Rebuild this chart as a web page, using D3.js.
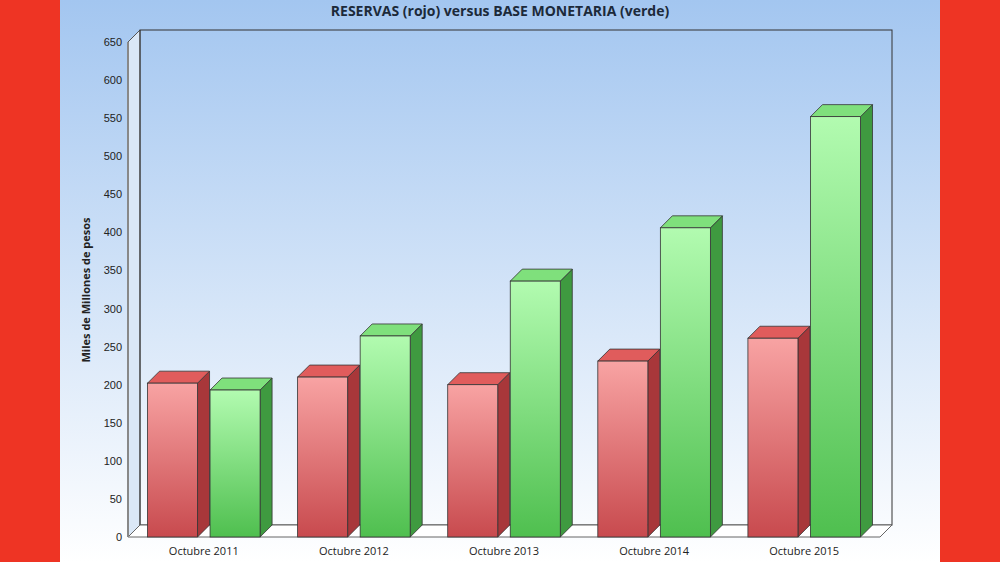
<!DOCTYPE html><html><head><meta charset="utf-8">
<script src="https://d3js.org/d3.v7.min.js"></script>
<style>body{margin:0}svg{display:block;font-family:"Open Sans",sans-serif}</style></head><body>
<svg id="c" width="1000" height="562"></svg>
<script>
const categories=["Octubre 2011","Octubre 2012","Octubre 2013","Octubre 2014","Octubre 2015"];
const reservas=[202,210,200,231,261];
const base=[193,264,336,406,552];
const yTicks=d3.range(0,651,50);
const svg=d3.select("#c");
const defs=svg.append("defs");
const bg=defs.append("linearGradient").attr("id","bg").attr("x1",0).attr("x2",0).attr("y1",0).attr("y2",1);
bg.append("stop").attr("offset",0).attr("stop-color","#a3c6f0");
bg.append("stop").attr("offset",1).attr("stop-color","#ffffff");
function grad(id,a,b){const g=defs.append("linearGradient").attr("id",id).attr("x1",0).attr("x2",0).attr("y1",0).attr("y2",1);
g.append("stop").attr("offset",0).attr("stop-color",a);g.append("stop").attr("offset",1).attr("stop-color",b);}
grad("rf","#f8a3a3","#c84a4e");grad("gf","#b2fbb0","#4fbf4f");
svg.append("rect").attr("width",1000).attr("height",562).attr("fill","#ee3424");
svg.append("rect").attr("x",60).attr("width",880).attr("height",562).attr("fill","url(#bg)");
svg.append("text").attr("x",500).attr("y",16).attr("text-anchor","middle").attr("font-size",14).attr("font-weight","bold").attr("fill","#1c2a3a").text("RESERVAS (rojo) versus BASE MONETARIA (verde)");
const D=12;
const y=d3.scaleLinear().domain([0,650]).range([537,42]);
const x0=d3.scaleBand().domain(categories).range([128,880]).paddingInner(0.25).paddingOuter(0.13);
const x1=d3.scaleBand().domain([0,1]).range([0,x0.bandwidth()]).paddingInner(0.2);
svg.append("path").attr("d",`M128,${y(650)}L${128+D},${y(650)-D}L${128+D},${y(0)-D}L128,${y(0)}Z`).attr("fill","#dbe8f7").attr("stroke","#555").attr("stroke-width",1);
svg.append("rect").attr("x",128+D).attr("y",y(650)-D).attr("width",892-128-D).attr("height",y(0)-y(650)).attr("fill","none").attr("stroke","#333").attr("stroke-width",1);
svg.append("path").attr("d",`M128,${y(0)}L${128+D},${y(0)-D}L892,${y(0)-D}L${892-D},${y(0)}Z`).attr("fill","#fff").attr("stroke","#666");
svg.append("line").attr("x1",128).attr("x2",128).attr("y1",y(650)).attr("y2",y(0)).attr("stroke","#888").attr("stroke-width",2);
const ax=svg.append("g").attr("transform","translate(124,0)").call(d3.axisLeft(y).tickValues(yTicks).tickSize(0).tickPadding(2));
ax.select(".domain").remove();ax.selectAll("text").attr("font-size",11).attr("fill","#222");
svg.append("text").attr("transform","translate(90,290) rotate(-90)").attr("text-anchor","middle").attr("font-size",11).attr("font-weight","bold").attr("fill","#222").text("Miles de Millones de pesos");
const series=[{v:reservas,f:"url(#rf)",top:"#e05c5c",side:"#a8373a"},{v:base,f:"url(#gf)",top:"#7fe07c",side:"#3f9a40"}];
series.forEach((s,si)=>{categories.forEach((c,i)=>{
 const bx=x0(c)+x1(si),w=x1.bandwidth(),t=y(s.v[i]),b=y(0);
 const g=svg.append("g").attr("stroke","#333").attr("stroke-width",0.8);
 g.append("path").attr("d",`M${bx+w},${t}L${bx+w+D},${t-D}L${bx+w+D},${b-D}L${bx+w},${b}Z`).attr("fill",s.side);
 g.append("path").attr("d",`M${bx},${t}L${bx+D},${t-D}L${bx+w+D},${t-D}L${bx+w},${t}Z`).attr("fill",s.top);
 g.append("rect").attr("x",bx).attr("y",t).attr("width",w).attr("height",b-t).attr("fill",s.f);
});});
categories.forEach(c=>svg.append("text").attr("x",x0(c)+x0.bandwidth()/2).attr("y",555).attr("text-anchor","middle").attr("font-size",11).attr("fill","#222").text(c));
</script></body></html>
